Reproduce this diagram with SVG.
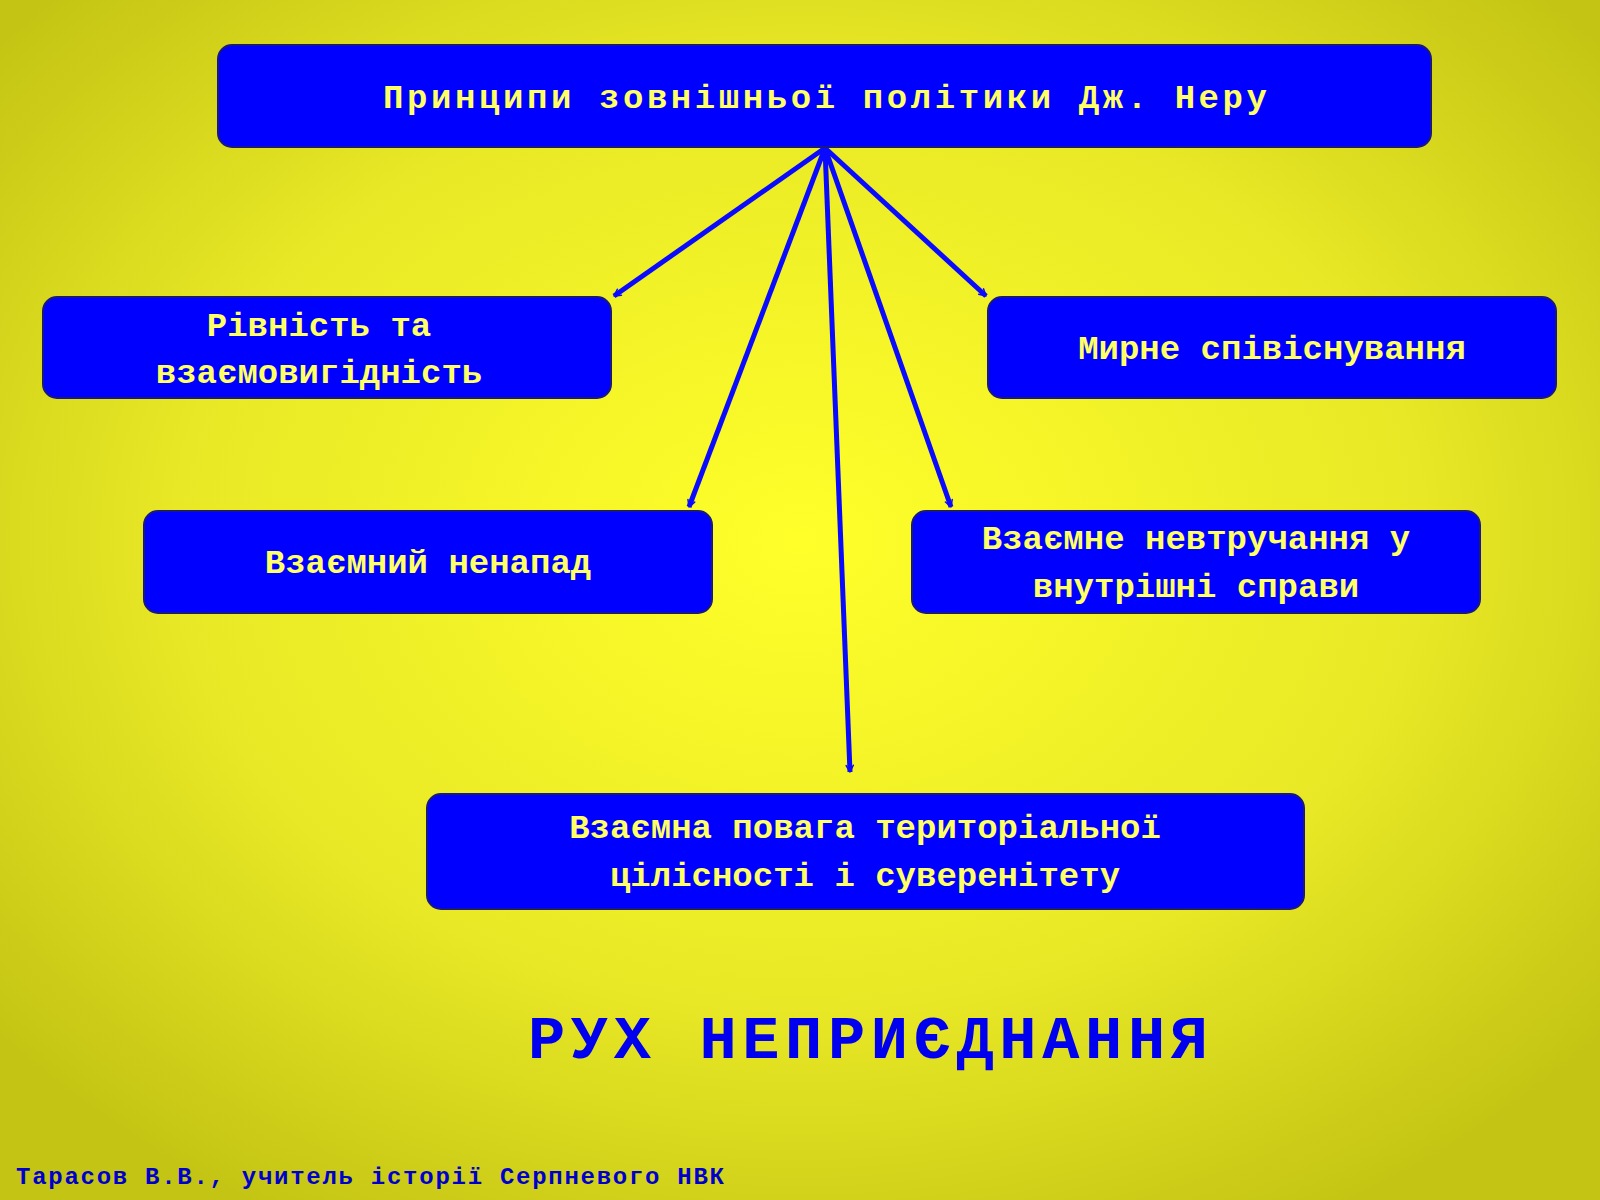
<svg xmlns="http://www.w3.org/2000/svg" width="1600" height="1200" viewBox="0 0 1600 1200">
<defs>
<radialGradient id="bg" cx="50%" cy="45%" r="65%">
<stop offset="0" stop-color="#ffff2a"/>
<stop offset="0.6" stop-color="#e8e826"/>
<stop offset="1" stop-color="#c4c414"/>
</radialGradient>
<marker id="ah" viewBox="0 0 20 20" refX="18" refY="10" markerWidth="6" markerHeight="6" orient="auto" markerUnits="userSpaceOnUse" overflow="visible">
<polyline points="-4,-2 18,10 -4,22" fill="none" stroke="#0a0aff" stroke-width="5" stroke-linecap="round" stroke-linejoin="round"/>
</marker>
<style>
.box{fill:#0000ff;stroke:#1a1a7a;stroke-width:2}
.t{font-family:"Liberation Mono","Courier New",monospace;font-weight:bold;fill:#ffff66;font-size:34px;text-anchor:middle}
.c{stroke:#0a0aff;stroke-width:5;fill:none;marker-end:url(#ah)}
</style>
</defs>
<rect width="1600" height="1200" fill="url(#bg)"/>
<g id="connectors">
<line class="c" x1="825" y1="148" x2="614" y2="296"/>
<line class="c" x1="825" y1="148" x2="689" y2="507"/>
<line class="c" x1="825" y1="148" x2="850" y2="772"/>
<line class="c" x1="825" y1="148" x2="951" y2="507"/>
<line class="c" x1="825" y1="148" x2="986" y2="296"/>
</g>
<g id="top"><rect class="box" x="218" y="45" width="1213" height="102" rx="14"/>
<text class="t" x="825" y="108" textLength="884">Принципи зовнішньої політики Дж. Неру</text></g>
<g id="n1"><rect class="box" x="43" y="297" width="568" height="101" rx="14"/>
<text class="t" x="319" y="336">Рівність та</text><text class="t" x="319" y="383">взаємовигідність</text></g>
<g id="n2"><rect class="box" x="988" y="297" width="568" height="101" rx="14"/>
<text class="t" x="1272" y="359">Мирне співіснування</text></g>
<g id="n3"><rect class="box" x="144" y="511" width="568" height="102" rx="14"/>
<text class="t" x="428" y="573">Взаємний ненапад</text></g>
<g id="n4"><rect class="box" x="912" y="511" width="568" height="102" rx="14"/>
<text class="t" x="1196" y="549">Взаємне невтручання у</text><text class="t" x="1196" y="597">внутрішні справи</text></g>
<g id="n5"><rect class="box" x="427" y="794" width="877" height="115" rx="14"/>
<text class="t" x="865" y="838">Взаємна повага територіальної</text><text class="t" x="865" y="886">цілісності і суверенітету</text></g>
<text x="868" y="1058" font-family="Liberation Mono,monospace" font-weight="bold" font-size="62" fill="#0000ee" text-anchor="middle" textLength="680">РУХ НЕПРИЄДНАННЯ</text>
<text x="16" y="1184" font-family="Liberation Mono,monospace" font-weight="bold" font-size="24" fill="#0000cc" textLength="708">Тарасов В.В., учитель історії Серпневого НВК</text>
</svg>
